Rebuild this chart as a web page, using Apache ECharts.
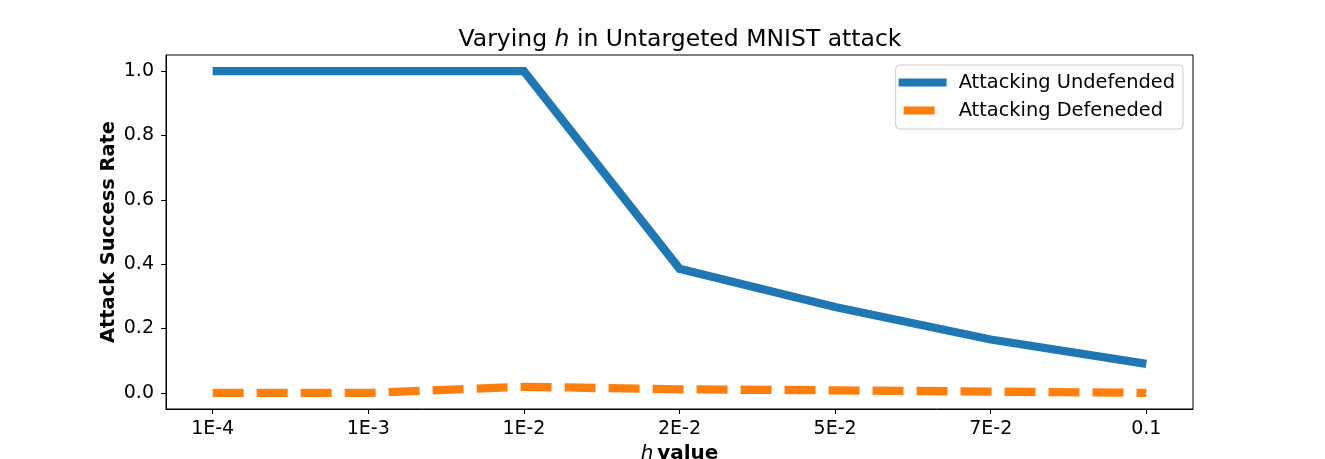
<!DOCTYPE html>
<html>
<head>
<meta charset="utf-8">
<script src="https://cdn.jsdelivr.net/npm/echarts@6/dist/echarts.min.js"></script>
<style>html,body{margin:0;padding:0;background:#fff}#c{width:1325px;height:459px}</style>
</head>
<body>
<div id="c"></div>
<script>
const categories = ['1E-4', '1E-3', '1E-2', '2E-2', '5E-2', '7E-2', '0.1'];
const undefended = [1.0, 1.0, 1.0, 0.386, 0.267, 0.166, 0.09];
const defended = [0.0, 0.0, 0.019, 0.011, 0.008, 0.004, 0.0];
const yTicks = [0.0, 0.2, 0.4, 0.6, 0.8, 1.0];

const FONT = 'DejaVu Sans';
const chart = echarts.init(document.getElementById('c'), null, {renderer: 'canvas'});
const xIdx = categories.map((_, i) => i);
const toPairs = arr => arr.map((v, i) => [i, v]);

chart.setOption({
  animation: false,
  backgroundColor: '#fff',
  textStyle: {fontFamily: FONT, color: '#000'},
  title: {
    text: '{n|Varying }{i|h}{n| in Untargeted MNIST attack}',
    left: 675, top: 23, textAlign: 'center',
    textStyle: {
      fontWeight: 'normal',
      rich: {
        n: {fontFamily: FONT, fontSize: 23.5, fontWeight: 'normal', color: '#000'},
        i: {fontFamily: FONT, fontSize: 23.5, fontWeight: 'normal', fontStyle: 'italic', color: '#000'}
      }
    }
  },
  grid: {left: 166, right: 132, top: 55, bottom: 50, show: true, borderColor: '#000', borderWidth: 1,
    outerBoundsMode: 'none', containLabel: false},
  legend: {
    right: 142, top: 65,
    orient: 'vertical',
    itemWidth: 48, itemHeight: 8, itemGap: 9,
    padding: [8, 8, 9, 3],
    backgroundColor: '#fff',
    borderColor: '#ccc', borderWidth: 1, borderRadius: 4,
    textStyle: {fontFamily: FONT, fontSize: 19.4, color: '#000', padding: [0, 0, 0, 7]},
    data: [
      {name: 'Attacking Undefended', icon: 'rect'},
      {name: 'Attacking Defeneded', icon: 'path://M0,0 M48,0 M5,0 H36 V8 H5 Z M0,8 M48,8'}
    ]
  },
  xAxis: {
    type: 'value', min: -0.3, max: 6.3,
    name: '{i|h} {b|value}',
    nameLocation: 'middle', nameGap: 31,
    nameTextStyle: {
      rich: {
        i: {fontFamily: FONT, fontSize: 20, fontStyle: 'italic', color: '#000'},
        b: {fontFamily: FONT, fontSize: 20, fontWeight: 'bold', color: '#000'}
      }
    },
    axisLine: {onZero: false, lineStyle: {color: '#000', width: 1}},
    axisTick: {show: true, customValues: xIdx, length: 5, lineStyle: {color: '#000'}},
    axisLabel: {customValues: xIdx, fontFamily: FONT, fontSize: 19, color: '#000', margin: 11,
      formatter: v => categories[Math.round(v)]},
    splitLine: {show: false}
  },
  yAxis: {
    type: 'value', min: -0.05, max: 1.05,
    name: 'Attack Success Rate',
    nameLocation: 'middle', nameGap: 48, nameRotate: 90, nameMoveOverlap: false,
    nameTextStyle: {fontFamily: FONT, fontSize: 19.4, fontWeight: 'bold', color: '#000'},
    axisLine: {show: true, onZero: false, lineStyle: {color: '#000', width: 1}},
    axisTick: {show: true, customValues: yTicks, length: 5, lineStyle: {color: '#000'}},
    axisLabel: {customValues: yTicks, fontFamily: FONT, fontSize: 19, color: '#000', margin: 12,
      formatter: v => v.toFixed(1)},
    splitLine: {show: false}
  },
  series: [
    {
      name: 'Attacking Undefended', type: 'line', data: toPairs(undefended),
      symbol: 'none', color: '#1f77b4',
      lineStyle: {width: 8.3, color: '#1f77b4', cap: 'butt', join: 'miter'},
      itemStyle: {color: '#1f77b4'}
    },
    {
      name: 'Attacking Defeneded', type: 'line', data: toPairs(defended),
      symbol: 'none', color: '#ff7f0e',
      lineStyle: {width: 8.3, color: '#ff7f0e', type: [31, 13], cap: 'butt'},
      itemStyle: {color: '#ff7f0e'}
    }
  ]
});
</script>
</body>
</html>
